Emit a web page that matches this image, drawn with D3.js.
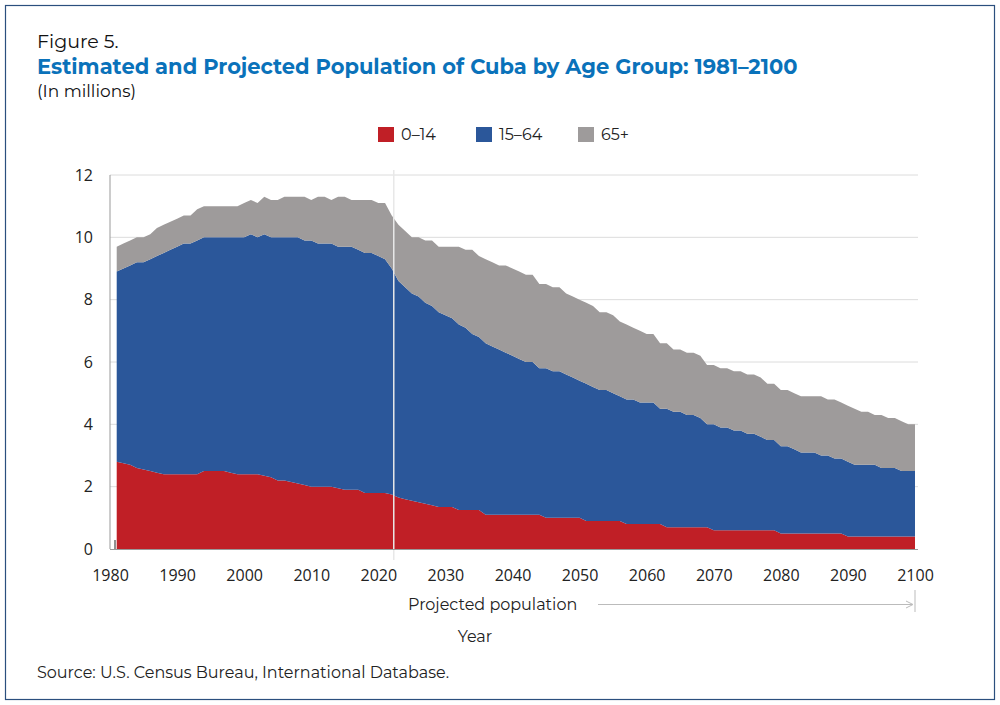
<!DOCTYPE html>
<html><head><meta charset="utf-8">
<script src="https://cdn.jsdelivr.net/npm/d3@7"></script>
<style>body{margin:0;background:#fff;font-family:"Montserrat","Open Sans",sans-serif}</style>
</head><body><svg id="c" width="1000" height="705"></svg>
<script>
const years = d3.range(1981, 2101);
const age0_14 = [2.8,2.75,2.7,2.6,2.55,2.5,2.45,2.4,2.4,2.4,2.4,2.4,2.4,2.5,2.5,2.5,2.5,2.45,2.4,2.4,
2.4,2.4,2.35,2.3,2.2,2.2,2.15,2.1,2.05,2.0,2.0,2.0,2.0,1.95,1.9,1.9,1.9,1.8,1.8,1.8,
1.8,1.75,1.65,1.6,1.55,1.5,1.45,1.4,1.35,1.35,1.35,1.25,1.25,1.25,1.25,1.1,1.1,1.1,1.1,1.1,
1.1,1.1,1.1,1.1,1.0,1.0,1.0,1.0,1.0,1.0,0.9,0.9,0.9,0.9,0.9,0.9,0.8,0.8,0.8,0.8,
0.8,0.8,0.7,0.7,0.7,0.7,0.7,0.7,0.7,0.6,0.6,0.6,0.6,0.6,0.6,0.6,0.6,0.6,0.6,0.5,
0.5,0.5,0.5,0.5,0.5,0.5,0.5,0.5,0.5,0.4,0.4,0.4,0.4,0.4,0.4,0.4,0.4,0.4,0.4,0.4];
const age15_64 = [6.1,6.25,6.4,6.6,6.65,6.8,6.95,7.1,7.2,7.3,7.4,7.4,7.5,7.5,7.5,7.5,7.5,7.55,7.6,7.6,
7.7,7.6,7.75,7.7,7.8,7.8,7.85,7.9,7.85,7.9,7.8,7.8,7.8,7.75,7.8,7.8,7.7,7.7,7.7,7.6,
7.5,7.25,6.95,6.8,6.65,6.6,6.45,6.4,6.25,6.15,6.05,5.95,5.85,5.65,5.55,5.5,5.4,5.3,5.2,5.1,
5.0,4.9,4.9,4.7,4.8,4.7,4.7,4.6,4.5,4.4,4.4,4.3,4.2,4.2,4.1,4.0,4.0,4.0,3.9,3.9,
3.9,3.7,3.8,3.7,3.7,3.6,3.6,3.5,3.3,3.4,3.3,3.3,3.2,3.2,3.1,3.1,3.0,2.9,2.9,2.8,
2.8,2.7,2.6,2.6,2.6,2.5,2.5,2.4,2.4,2.4,2.3,2.3,2.3,2.3,2.2,2.2,2.2,2.1,2.1,2.1];
const age65 = [0.8,0.8,0.8,0.8,0.8,0.8,0.9,0.9,0.9,0.9,0.9,0.9,1.0,1.0,1.0,1.0,1.0,1.0,1.0,1.1,
1.1,1.1,1.2,1.2,1.2,1.3,1.3,1.3,1.4,1.3,1.5,1.5,1.4,1.6,1.6,1.5,1.6,1.7,1.7,1.7,
1.8,1.7,1.8,1.8,1.8,1.9,2.0,2.1,2.1,2.2,2.3,2.5,2.5,2.7,2.6,2.7,2.7,2.7,2.8,2.8,
2.8,2.8,2.8,2.7,2.7,2.7,2.7,2.6,2.6,2.6,2.6,2.6,2.5,2.5,2.5,2.4,2.4,2.3,2.3,2.2,
2.2,2.1,2.1,2.0,2.0,2.0,2.0,2.0,1.9,1.9,1.9,1.9,1.9,1.9,1.9,1.9,1.9,1.8,1.8,1.8,
1.8,1.8,1.8,1.8,1.8,1.9,1.8,1.9,1.8,1.8,1.8,1.7,1.7,1.6,1.7,1.6,1.6,1.6,1.5,1.5];
const seriesNames = ["0–14","15–64","65+"];
const colors = ["#c01f26","#2b579a","#9e9b9b"];
const xTicks = d3.range(1980, 2101, 10);
const yTicks = [0,2,4,6,8,10,12];

const svg = d3.select("#c");
svg.append("rect").attr("x",5.5).attr("y",5.5).attr("width",989).attr("height",694).attr("fill","none").attr("stroke","#2b4f7e").attr("stroke-width",1.2);
svg.append("text").attr("x",37).attr("y",48).attr("font-size",19).attr("fill","#111").text("Figure 5.");
svg.append("text").attr("x",37).attr("y",74).attr("font-size",21).attr("font-weight","bold").attr("fill","#0a72ba").text("Estimated and Projected Population of Cuba by Age Group: 1981–2100");
svg.append("text").attr("x",37).attr("y",97).attr("font-size",17).attr("fill","#111").text("(In millions)");

const x = d3.scaleLinear().domain([1980,2100]).range([110,915]);
const y = d3.scaleLinear().domain([0,12]).range([549,175]);

const g = svg.append("g");
g.selectAll(".grid").data(yTicks.filter(d=>d>0)).join("line").attr("x1",110).attr("x2",918)
 .attr("y1",d=>y(d)).attr("y2",d=>y(d)).attr("stroke","#dcdcdc");

const rows = years.map((yr,i)=>({year:yr, a:age0_14[i], b:age15_64[i], c:age65[i]}));
const stack = d3.stack().keys(["a","b","c"])(rows);
const area = d3.area().x(d=>x(d.data.year)).y0(d=>y(d[0])).y1(d=>y(d[1]));
g.selectAll(".layer").data(stack).join("path").attr("d",area).attr("fill",(d,i)=>colors[i]);

// projection divider
g.append("line").attr("x1",x(2022.3)).attr("x2",x(2022.3)).attr("y1",170).attr("y2",560).attr("stroke","#e8e8e8").attr("stroke-width",1.5);

// axes
g.append("line").attr("x1",110).attr("x2",110).attr("y1",175).attr("y2",549).attr("stroke","#999");
g.append("line").attr("x1",110).attr("x2",918).attr("y1",549.5).attr("y2",549.5).attr("stroke","#999");
g.append("line").attr("x1",115).attr("x2",115).attr("y1",540).attr("y2",549).attr("stroke","#222");
const yAxis = d3.axisLeft(y).tickValues(yTicks).tickSize(0).tickPadding(0);
const ya = svg.append("g").attr("transform","translate(93,0)").call(yAxis);
ya.select(".domain").remove();
ya.selectAll("text").attr("font-size",16).attr("fill","#222").attr("font-family","'Open Sans',sans-serif");
const xAxis = d3.axisBottom(x).tickValues(xTicks).tickFormat(d3.format("d")).tickSize(0).tickPadding(0);
const xa = svg.append("g").attr("transform","translate(0,570)").call(xAxis);
xa.select(".domain").remove();
xa.selectAll("text").attr("font-size",16).attr("fill","#222").attr("font-family","'Open Sans',sans-serif");

// projected annotation
svg.append("text").attr("x",408).attr("y",610).attr("font-size",16).attr("fill","#222").text("Projected population");
svg.append("line").attr("x1",598).attr("x2",912).attr("y1",604.5).attr("y2",604.5).attr("stroke","#bbb");
svg.append("path").attr("d","M906,601 L913,604.5 L906,608").attr("fill","none").attr("stroke","#bbb");
svg.append("line").attr("x1",x(2100)).attr("x2",x(2100)).attr("y1",590).attr("y2",612).attr("stroke","#bbb");
svg.append("text").attr("x",475).attr("y",642).attr("text-anchor","middle").attr("font-size",16).attr("fill","#222").text("Year");
svg.append("text").attr("x",37).attr("y",678).attr("font-size",16).attr("fill","#222").text("Source: U.S. Census Bureau, International Database.");

// legend
const lx = [378,476,578];
const lg = svg.append("g").selectAll("g").data(seriesNames).join("g").attr("transform",(d,i)=>`translate(${lx[i]},127)`);
lg.append("rect").attr("width",16).attr("height",15).attr("fill",(d,i)=>colors[i]);
lg.append("text").attr("x",23).attr("y",13).attr("font-size",16).attr("fill","#222").text(d=>d);
</script></body></html>
